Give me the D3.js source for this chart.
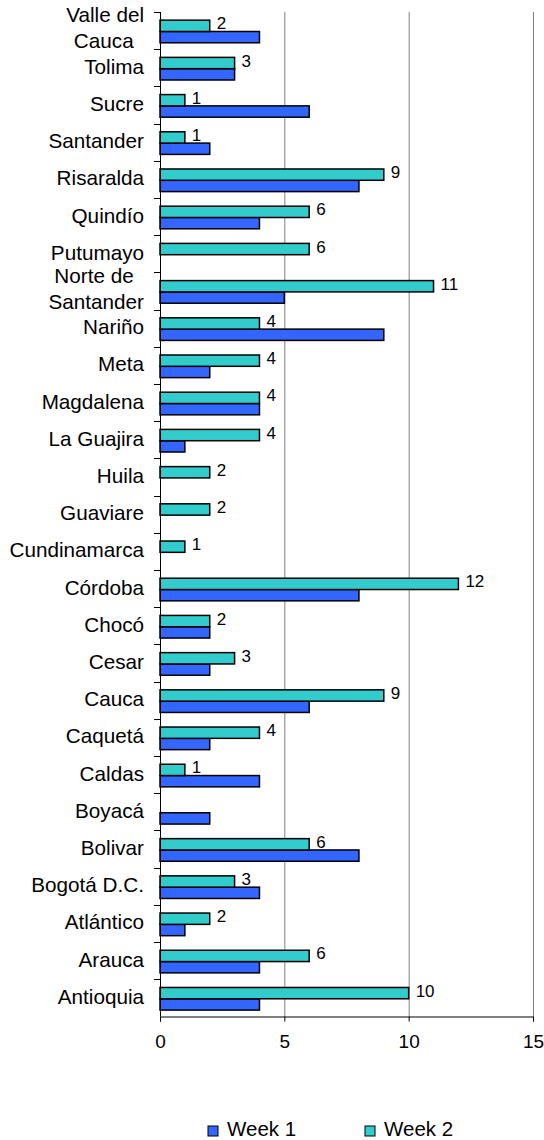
<!DOCTYPE html>
<html>
<head>
<meta charset="utf-8">
<script src="https://cdn.jsdelivr.net/npm/d3@7"></script>
<style>
  body { margin: 0; background: #fff; }
  text { font-family: "Liberation Sans", Arial, sans-serif; fill: #000; }
</style>
</head>
<body>
<svg id="chart"></svg>
<script>
// categories listed top to bottom
const departments = [
    "Valle del\nCauca\u2002", "Tolima", "Sucre", "Santander", "Risaralda", "Quindío",
    "Putumayo", "Norte de\u2002\nSantander", "Nariño", "Meta", "Magdalena", "La Guajira",
    "Huila", "Guaviare", "Cundinamarca", "Córdoba", "Chocó", "Cesar", "Cauca",
    "Caquetá", "Caldas", "Boyacá", "Bolivar", "Bogotá D.C.", "Atlántico", "Arauca", "Antioquia"
];
const week1 = [4, 3, 6, 2, 8, 4, 0, 5, 9, 2, 4, 1, 0, 0, 0, 8, 2, 2, 6, 2, 4, 2, 8, 4, 1, 4, 4];
const week2 = [2, 3, 1, 1, 9, 6, 6, 11, 4, 4, 4, 4, 2, 2, 1, 12, 2, 3, 9, 4, 1, 0, 6, 3, 2, 6, 10];
const seriesNames = ["Week 1", "Week 2"];
const xTicks = [0, 5, 10, 15];

const width = 544;
const height = 1140;
const colors = { "Week 1": "#3366FF", "Week 2": "#33CCCC" };

const svg = d3.select("#chart")
    .attr("width", width)
    .attr("height", height);

const x = d3.scaleLinear()
    .domain([0, 15])
    .range([160, 533]);

const y = d3.scaleBand()
    .domain(departments)
    .range([12, 1016.5])
    .padding(0);

// week 2 drawn above week 1 inside each band
const ySub = d3.scaleBand()
    .domain(["Week 2", "Week 1"])
    .range([0, y.bandwidth()])
    .paddingInner(0)
    .paddingOuter(0.645)
    .align(0.56);

// gridlines
svg.append("g")
    .selectAll("line")
    .data(xTicks.filter(d => d > 0))
    .enter().append("line")
    .attr("x1", d => x(d) + 0.5)
    .attr("x2", d => x(d) + 0.5)
    .attr("y1", 12)
    .attr("y2", 1016.5)
    .attr("stroke", "#808080")
    .attr("stroke-width", 1);

// bars
const rows = departments.map((d, i) => ({ name: d, "Week 1": week1[i], "Week 2": week2[i] }));

const groups = svg.append("g")
    .selectAll("g")
    .data(rows)
    .enter().append("g")
    .attr("transform", d => `translate(0,${y(d.name)})`);

groups.selectAll("rect")
    .data(d => seriesNames.map(s => ({ s: s, v: d[s] })).filter(e => e.v > 0))
    .enter().append("rect")
    .attr("x", x(0))
    .attr("y", d => ySub(d.s))
    .attr("width", d => x(d.v) - x(0))
    .attr("height", ySub.bandwidth())
    .attr("fill", d => colors[d.s])
    .attr("stroke", "#000")
    .attr("stroke-width", 1.5);

// value labels for week 2
groups.filter(d => d["Week 2"] > 0)
    .append("text")
    .attr("x", d => x(d["Week 2"]) + 7)
    .attr("y", ySub("Week 2") + ySub.bandwidth() / 2 - 2)
    .attr("dominant-baseline", "central")
    .attr("font-size", 17)
    .text(d => d["Week 2"]);

// y axis
const yAxis = svg.append("g");
yAxis.append("line")
    .attr("x1", x(0) + 0.5).attr("x2", x(0) + 0.5)
    .attr("y1", 12).attr("y2", 1016.5)
    .attr("stroke", "#000");
yAxis.selectAll(".tick")
    .data(departments)
    .enter().append("line")
    .attr("x1", x(0) - 6).attr("x2", x(0))
    .attr("y1", d => Math.round(y(d)) + 0.5)
    .attr("y2", d => Math.round(y(d)) + 0.5)
    .attr("stroke", "#000");

const labels = yAxis.selectAll(".cat")
    .data(departments)
    .enter().append("text")
    .attr("class", "cat")
    .attr("text-anchor", "end")
    .attr("font-size", 20.7)
    .style("white-space", "pre");

labels.each(function(d) {
    const lines = d.split("\n");
    const cy = y(d) + y.bandwidth() / 2 - 1.5;
    const t = d3.select(this);
    lines.forEach((line, i) => {
        const off = lines.length === 1 ? 0 : (i === 0 ? -14.5 : 11.5);
        t.append("tspan")
            .attr("x", 144)
            .attr("y", cy + off)
            .attr("dominant-baseline", "central")
            .text(line);
    });
});

// x axis
const xAxis = svg.append("g")
    .attr("transform", "translate(0,1016.5)")
    .call(d3.axisBottom(x).tickValues(xTicks).tickSize(5).tickPadding(13));
xAxis.select(".domain").attr("stroke", "#000");
xAxis.selectAll(".tick line").attr("stroke", "#000");
xAxis.selectAll(".tick text")
    .attr("font-size", 19)
    .attr("font-family", "Liberation Sans, Arial, sans-serif")
    .attr("fill", "#000");

// legend
const legend = svg.append("g")
    .selectAll("g")
    .data(seriesNames)
    .enter().append("g")
    .attr("transform", (d, i) => `translate(${208 + i * 157},1126)`);

legend.append("rect")
    .attr("width", 10)
    .attr("height", 10)
    .attr("fill", d => colors[d])
    .attr("stroke", "#000")
    .attr("stroke-width", 1);

legend.append("text")
    .attr("x", 19)
    .attr("y", 10)
    .attr("font-size", 20.5)
    .text(d => d);
</script>
</body>
</html>
